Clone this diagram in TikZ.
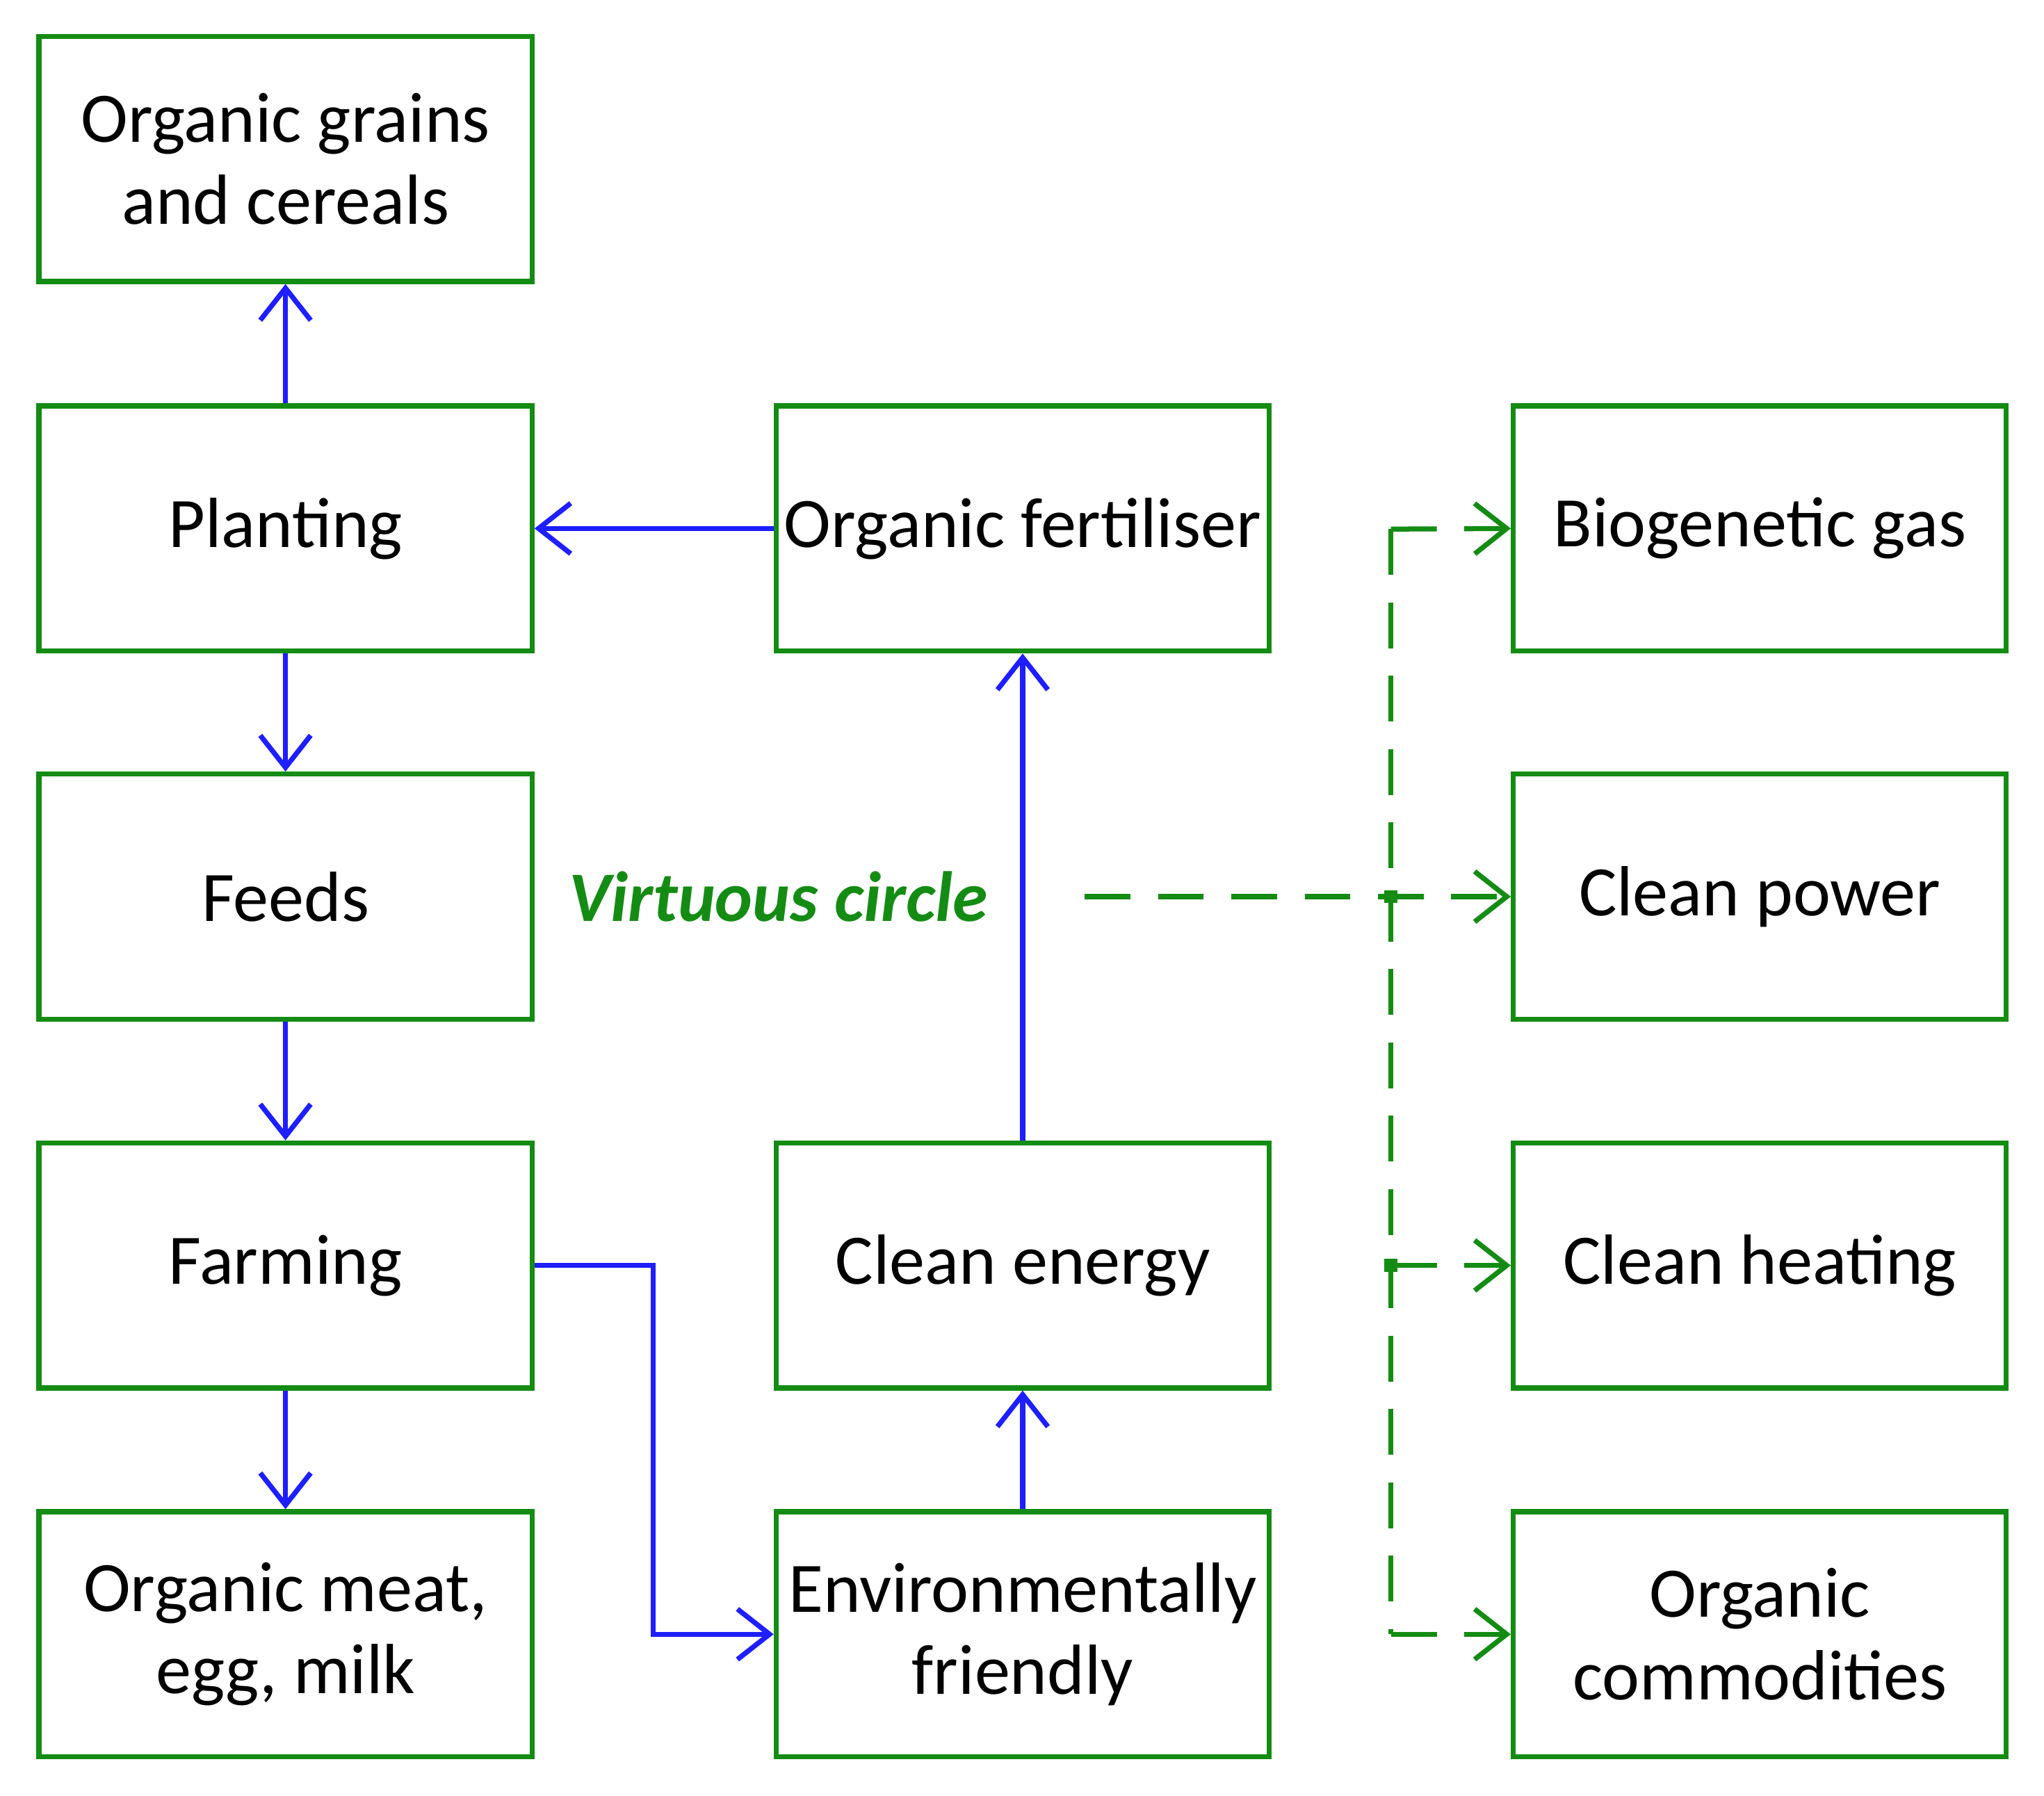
\documentclass[tikz,border=0pt]{standalone}
\usepackage{fontspec}
\setmainfont{Carlito}
\usetikzlibrary{arrows.meta}
\definecolor{bgreen}{RGB}{20,140,20}
\definecolor{ablue}{RGB}{30,30,255}
\begin{document}
\begin{tikzpicture}[x=0.01cm,y=-0.01cm,
  box/.style={draw=bgreen,line width=1.1pt,minimum width=3.78cm,minimum height=1.88cm,align=center,font=\fontsize{15.5}{18}\selectfont,inner sep=0pt},
  barrow/.style={draw=ablue,line width=1.1pt,-{Straight Barb[length=7pt,width=11pt]}},
  garrow/.style={draw=bgreen,line width=1.1pt,dash pattern=on 10pt off 6pt,-{Straight Barb[length=7pt,width=11pt]}},
  gline/.style={draw=bgreen,line width=1.1pt,dash pattern=on 10pt off 6pt}]
\useasboundingbox (0,0) rectangle (1568,1378);
\node[box] (grains) at (219,122) {Organic grains\\and cereals};
\node[box] (plant) at (219,405.5) {Planting};
\node[box] (feeds) at (219,688) {Feeds};
\node[box] (farm) at (219,971) {Farming};
\node[box] (meat) at (219,1254) {Organic meat,\\egg, milk};
\node[box] (fert) at (784.5,405.5) {Organic fertiliser};
\node[box] (energy) at (784.5,971) {Clean energy};
\node[box] (env) at (784.5,1254) {Environmentally\\friendly};
\node[box] (gas) at (1350,405.5) {Biogenetic gas};
\node[box] (power) at (1350,688) {Clean power};
\node[box] (heat) at (1350,971) {Clean heating};
\node[box] (comm) at (1350,1254) {Organic\\commodities};
\node[text=bgreen,font=\fontsize{15.5}{18}\selectfont\bfseries\itshape,inner sep=0pt] (vc) at (597,688) {Virtuous circle};
\coordinate (vce) at (832,688);
\draw[barrow] (plant) -- (grains);
\draw[barrow] (plant) -- (feeds);
\draw[barrow] (feeds) -- (farm);
\draw[barrow] (farm) -- (meat);
\draw[barrow] (fert) -- (plant);
\draw[barrow] (energy) -- (fert);
\draw[barrow] (env) -- (energy);
\draw[barrow] (farm.east) -- (501,971) -- (501,1254) -- (env.west);
\coordinate (j1) at (1067,688);
\coordinate (j2) at (1067,971);
\draw[garrow] (vce) -- (power.west);
\draw[gline] (1067,406) -- (1067,1254);
\draw[garrow] (1067,406) -- (gas.west);
\draw[garrow] (j2) -- (heat.west);
\draw[garrow] (1067,1254) -- (comm.west);
\fill[bgreen] (j1) +(-5,-5) rectangle +(5,5);
\fill[bgreen] (j2) +(-5,-5) rectangle +(5,5);
\end{tikzpicture}
\end{document}
